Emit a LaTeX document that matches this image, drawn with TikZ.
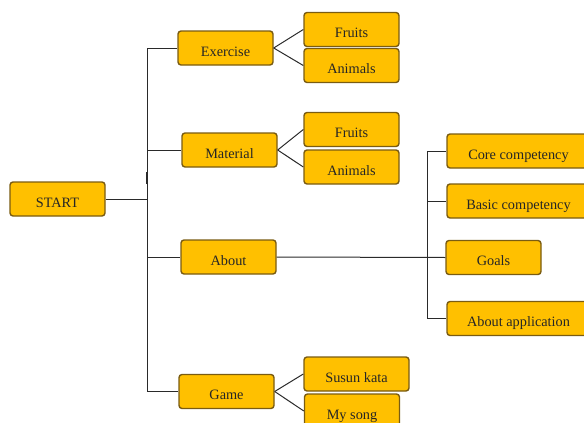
\documentclass[tikz,border=0pt]{standalone}
\usepackage{fontspec}
\setmainfont{Liberation Serif}
\definecolor{boxfill}{HTML}{FFC000}
\definecolor{boxline}{HTML}{7A5C12}
\definecolor{conn}{HTML}{2A2A2A}
\begin{document}
\begin{tikzpicture}[x=1pt,y=-1pt,
  box/.style={draw=boxline, line width=1.4pt, fill=boxfill, rounded corners=3pt,
    minimum width=95pt, minimum height=34pt, inner sep=0pt, text height=17pt, text depth=1pt,
    font=\fontsize{14.3}{16}\selectfont, text=black!85},
  widebox/.style={box, minimum width=143pt},
  link/.style={draw=conn, line width=1pt}]
\useasboundingbox (0,0) rectangle (584,423);
\clip (0,0) rectangle (584,423);
\node[box] (start) at (57.5,199) {START};
\node[box] (ex) at (225.5,48) {Exercise};
\node[box] (f1) at (351.5,29.5) {Fruits};
\node[box] (a1) at (351.5,65.5) {Animals};
\node[box] (mat) at (229.5,150) {Material};
\node[box] (f2) at (351.5,129.5) {Fruits};
\node[box] (a2) at (351.5,167) {Animals};
\node[box] (about) at (228.5,257) {About};
\node[box] (game) at (226.5,391.5) {Game};
\node[box, minimum width=105pt] (susun) at (356.5,374) {Susun kata};
\node[box] (song) at (352,411) {My song};
\node[widebox] (core) at (518.5,151) {Core competency};
\node[widebox] (basic) at (518.5,201) {Basic competency};
\node[box] (goals) at (493.5,257.5) {Goals};
\node[widebox] (app) at (518.5,318.5) {About application};
\coordinate (tr) at (147,199);
\coordinate (rt) at (427,257.5);
\draw[link] (start.east) -- (tr);
\draw[link] (tr |- ex.west) -- (tr |- game.west);
\draw[link, line width=2pt] ([yshift=15pt]tr) -- ([yshift=27pt]tr);
\draw[link] (tr |- ex.west) -- (ex.west);
\draw[link] (tr |- mat.west) -- (mat.west);
\draw[link] (tr |- about.west) -- (about.west);
\draw[link] (tr |- game.west) -- (game.west);
\draw[link] (ex.east) -- (f1.west);
\draw[link] (ex.east) -- (a1.west);
\draw[link] (mat.east) -- (f2.west);
\draw[link] (mat.east) -- (a2.west);
\draw[link] (game.east) -- (susun.west);
\draw[link] (game.east) -- (song.west);
\draw[link] (about.east) -- (goals.west);
\draw[link] (rt |- core.west) -- (rt |- app.west);
\draw[link] (rt |- core.west) -- (core.west);
\draw[link] (rt |- basic.west) -- (basic.west);
\draw[link] (rt |- app.west) -- (app.west);
\end{tikzpicture}
\end{document}
